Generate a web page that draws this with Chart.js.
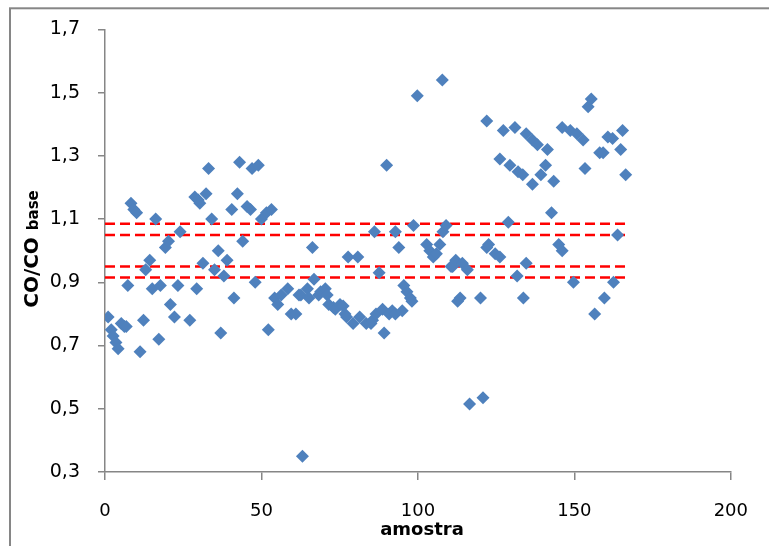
<!DOCTYPE html>
<html lang="pt-br">
<head>
  <meta charset="UTF-8">
  <title>CO/CO base por amostra</title>
  <style>
    body { margin: 0; background: #fff; }
    #grafico { display: block; }
  </style>
</head>
<body>
  <canvas id="grafico" width="769" height="546"></canvas>
  <script src="https://cdn.jsdelivr.net/npm/chart.js"></script>
  <script>
    // valores
    const amostra = [1.0, 2.0, 2.6, 3.5, 4.2, 5.2, 6.2, 6.8, 7.3, 8.3, 9.2, 10.1, 11.2, 12.3, 13.0, 14.3, 15.1, 16.2, 17.2, 17.7,
      19.3, 20.3, 20.9, 22.2, 23.3, 24.0, 27.1, 28.7, 29.3, 29.8, 30.3, 31.3, 32.3, 33.1, 34.1, 35.0, 36.2, 37.0, 38.0, 39.0,
      40.5, 41.2, 42.3, 43.0, 44.0, 45.4, 46.5, 47.0, 48.0, 49.0, 50.0, 51.6, 52.2, 53.2, 54.2, 55.2, 56.3, 58.4, 59.5, 61.0,
      62.0, 62.6, 63.1, 64.7, 65.2, 66.3, 66.8, 68.3, 68.9, 70.4, 71.0, 71.5, 73.0, 73.6, 75.1, 76.1, 76.7, 77.2, 77.7, 79.3,
      80.8, 81.4, 83.5, 85.0, 85.5, 86.1, 86.6, 87.6, 88.7, 89.2, 90.0, 90.8, 91.8, 92.8, 92.8, 93.9, 95.0, 95.5, 96.5, 97.6,
      98.1, 98.6, 99.8, 102.8, 103.8, 104.9, 105.9, 107.0, 107.8, 108.0, 109.0, 110.6, 111.1, 112.1, 112.7, 113.5, 114.2, 115.8, 116.5, 120.0,
      120.8, 122.0, 122.0, 122.6, 124.7, 126.2, 126.2, 127.3, 128.9, 129.4, 131.0, 131.7, 132.0, 133.5, 133.7, 134.6, 134.6, 136.6, 136.6, 138.2,
      139.3, 140.8, 141.4, 142.7, 143.4, 145.0, 146.1, 146.1, 148.7, 149.7, 150.8, 152.8, 153.4, 154.4, 155.4, 156.5, 158.1, 159.2, 159.6, 160.7,
      162.2, 162.5, 163.8, 164.8, 165.4, 166.4];
    const coBase = [0.79, 0.75, 0.73, 0.71, 0.69, 0.77, 0.76, 0.76, 0.89, 1.15, 1.13, 1.12, 0.68, 0.78, 0.94, 0.97, 0.88, 1.10, 0.72, 0.89,
      1.01, 1.03, 0.83, 0.79, 0.89, 1.06, 0.78, 1.17, 0.88, 1.16, 1.15, 0.96, 1.18, 1.26, 1.10, 0.94, 1.00, 0.74, 0.92, 0.97,
      1.13, 0.85, 1.18, 1.28, 1.03, 1.14, 1.13, 1.26, 0.90, 1.27, 1.10, 1.12, 0.75, 1.13, 0.85, 0.83, 0.86, 0.88, 0.80, 0.80,
      0.86, 0.86, 0.35, 0.88, 0.85, 1.01, 0.91, 0.86, 0.87, 0.88, 0.86, 0.83, 0.82, 0.815, 0.83, 0.825, 0.80, 0.79, 0.98, 0.77,
      0.98, 0.79, 0.77, 0.77, 0.78, 1.06, 0.80, 0.93, 0.815, 0.74, 1.27, 0.80, 0.81, 0.80, 1.06, 1.01, 0.81, 0.89, 0.87, 0.85,
      0.84, 1.08, 1.49, 1.02, 1.00, 0.98, 0.99, 1.02, 1.54, 1.06, 1.08, 0.95, 0.95, 0.97, 0.84, 0.85, 0.96, 0.94, 0.515, 0.85,
      0.535, 1.41, 1.01, 1.02, 0.99, 0.98, 1.29, 1.38, 1.09, 1.27, 1.39, 0.92, 1.25, 1.24, 0.85, 0.96, 1.37, 1.35, 1.21, 1.335,
      1.24, 1.27, 1.32, 1.12, 1.22, 1.02, 1.00, 1.39, 1.38, 0.90, 1.37, 1.35, 1.26, 1.455, 1.48, 0.80, 1.31, 1.31, 0.85, 1.36,
      1.355, 0.90, 1.05, 1.32, 1.38, 1.24];

    const limites = [1.085, 1.05, 0.95, 0.915];
    const limiteX = [0, 167];
    const ticksX = [0, 50, 100, 150, 200];
    const ticksY = [0.3, 0.5, 0.7, 0.9, 1.1, 1.3, 1.5, 1.7];

    const cinza = '#868686';

    const pontos = amostra.map((x, i) => ({ x: x, y: coBase[i] }));

    const linhas = limites.map(v => ({
      type: 'line',
      data: limiteX.map(x => ({ x: x, y: v })),
      borderColor: '#ff0000',
      borderWidth: 2.5,
      borderDash: [10, 5],
      pointRadius: 0,
      fill: false
    }));

    // titulos dos eixos e moldura
    const extras = {
      id: 'extras',
      afterDraw(chart) {
        const ctx = chart.ctx;
        ctx.save();
        ctx.strokeStyle = cinza;
        ctx.lineWidth = 2;
        ctx.strokeRect(10, 8.3, 800, 600);

        ctx.fillStyle = '#000';
        ctx.font = 'bold 18px "DejaVu Sans"';
        ctx.textAlign = 'center';
        ctx.textBaseline = 'alphabetic';
        ctx.fillText('amostra', 422, 535);

        ctx.translate(37.5, 249);
        ctx.rotate(-Math.PI / 2);
        ctx.textAlign = 'left';
        const f1 = 'bold 20px "DejaVu Sans"', f2 = 'bold 15px "DejaVu Sans"';
        ctx.font = f1;
        const w1 = ctx.measureText('CO/CO ').width;
        ctx.font = f2;
        const w2 = ctx.measureText('base').width;
        const x0 = -(w1 + w2) / 2;
        ctx.font = f1;
        ctx.fillText('CO/CO ', x0, 0);
        ctx.font = f2;
        ctx.fillText('base', x0 + w1, 0);
        ctx.restore();
      }
    };

    new Chart(document.getElementById('grafico'), {
      type: 'scatter',
      data: {
        datasets: [{
          data: pontos,
          pointStyle: 'rectRot',
          pointRadius: 6.5,
          pointBackgroundColor: '#4f81bd',
          pointBorderColor: '#4f81bd',
          pointBorderWidth: 0
        }].concat(linhas)
      },
      options: {
        responsive: false,
        animation: false,
        layout: { padding: { left: 0, top: 23, right: 25, bottom: 0 } },
        plugins: { legend: { display: false }, tooltip: { enabled: false } },
        scales: {
          x: {
            type: 'linear',
            min: 0, max: 200,
            afterFit(s) { s.height = 74; },
            afterBuildTicks(s) { s.ticks = ticksX.map(v => ({ value: v })); },
            border: { color: cinza, width: 1.5 },
            grid: { drawOnChartArea: false, tickLength: 8, color: cinza, lineWidth: 1.5 },
            ticks: { color: '#000', padding: 21, font: { family: 'DejaVu Sans', size: 18 } }
          },
          y: {
            type: 'linear',
            min: 0.3, max: 1.7,
            afterFit(s) { s.width = 105; },
            afterBuildTicks(s) { s.ticks = ticksY.map(v => ({ value: v })); },
            border: { color: cinza, width: 1.5 },
            grid: { drawOnChartArea: false, tickLength: 7, color: cinza, lineWidth: 1.5 },
            ticks: {
              color: '#000', padding: 18,
              font: { family: 'DejaVu Sans', size: 19 },
              callback: v => v.toFixed(1).replace('.', ',')
            }
          }
        }
      },
      plugins: [extras]
    });
  </script>
</body>
</html>
